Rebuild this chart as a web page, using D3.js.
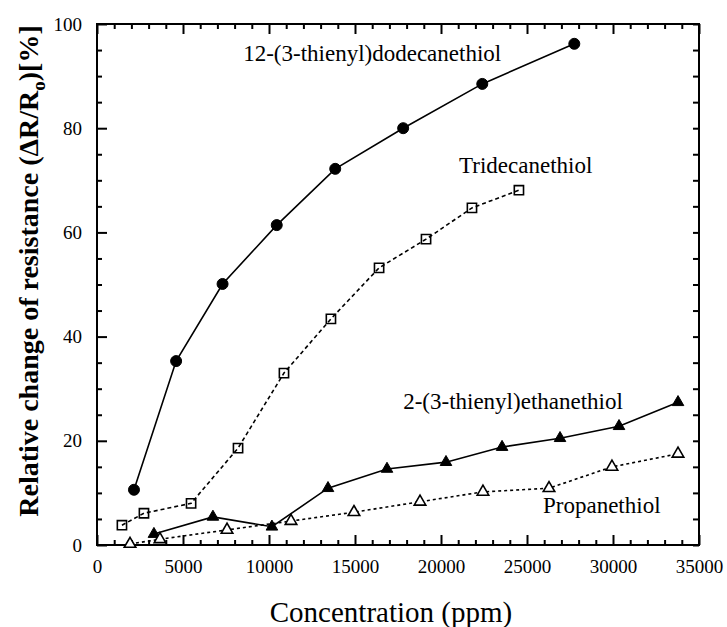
<!DOCTYPE html>
<html lang="en">
<head>
<meta charset="utf-8">
<title>Resistance change</title>
<script src="https://d3js.org/d3.v7.min.js"></script>
<style>
    body { margin: 0; background: white; }
    text { font-family: "Liberation Serif", "Times New Roman", serif; fill: black; }
</style>
</head>
<body>
<div id="chart"></div>
<script>
// data (concentration in ppm, response in %)
const dodecX = [2150, 4600, 7300, 10450, 13850, 17800, 22400, 27750];
const dodecY = [10.6, 35.3, 50.1, 61.4, 72.2, 80.0, 88.5, 96.2];

const tridecX = [1450, 2730, 5470, 8200, 10870, 13600, 16400, 19130, 21800, 24530];
const tridecY = [3.8, 6.1, 8.0, 18.6, 33.0, 43.4, 53.2, 58.7, 64.7, 68.1];

const ethanX = [3310, 6740, 10170, 13430, 16860, 20290, 23550, 26920, 30350, 33780];
const ethanY = [2.1, 5.4, 3.5, 10.9, 14.6, 15.9, 18.8, 20.5, 22.8, 27.4];

const propX = [1920, 3660, 7560, 11280, 14940, 18780, 22440, 26280, 29940, 33780];
const propY = [0.2, 1.1, 2.9, 4.6, 6.3, 8.3, 10.2, 10.9, 15.0, 17.5];

const xTicks = [0, 5000, 10000, 15000, 20000, 25000, 30000, 35000];
const yTicks = [0, 20, 40, 60, 80, 100];

const width = 727;
const height = 627;
const margin = ({left: 97, right: 28, top: 24, bottom: 82});
const w = width - margin.left - margin.right;
const h = height - margin.top - margin.bottom;

const svg = d3.select("#chart")
    .append("svg")
    .attr("width", width)
    .attr("height", height);

const g = svg.append("g")
    .attr("transform", "translate(" + margin.left + "," + margin.top + ")");

const x = d3.scaleLinear().domain([0, 35000]).range([0, w]);
const y = d3.scaleLinear().domain([0, 100]).range([h, 0]);

// minor tick positions (ticks all point inward)
const xMinor = d3.range(0, 35001, 1000);
const yMinor = d3.range(0, 101, 5);

// bottom
g.append("g")
    .attr("transform", "translate(0," + h + ")")
    .call(d3.axisBottom(x).tickValues(xMinor).tickSize(0).tickFormat(""))
    .call(a => a.select(".domain").remove())
    .selectAll(".tick line")
    .attr("y2", d => d % 5000 === 0 ? -10 : -5);

g.append("g")
    .attr("transform", "translate(0," + h + ")")
    .call(d3.axisBottom(x).tickValues(xTicks).tickSize(0).tickPadding(28).tickFormat(d3.format("d")))
    .call(a => a.select(".domain").remove())
    .selectAll("text")
    .attr("font-size", "19px")
    .attr("dy", 0);

// top
g.append("g")
    .call(d3.axisTop(x).tickValues(xMinor).tickSize(0).tickFormat(""))
    .call(a => a.select(".domain").remove())
    .selectAll(".tick line")
    .attr("y2", d => d % 5000 === 0 ? 10 : 5);

// left
g.append("g")
    .call(d3.axisLeft(y).tickValues(yMinor).tickSize(0).tickFormat(""))
    .call(a => a.select(".domain").remove())
    .selectAll(".tick line")
    .attr("x2", d => d % 20 === 0 ? 10 : 5);

g.append("g")
    .call(d3.axisLeft(y).tickValues(yTicks).tickSize(0).tickPadding(15))
    .call(a => a.select(".domain").remove())
    .selectAll("text")
    .attr("font-size", "19px");

// right
g.append("g")
    .attr("transform", "translate(" + w + ",0)")
    .call(d3.axisRight(y).tickValues(yMinor).tickSize(0).tickFormat(""))
    .call(a => a.select(".domain").remove())
    .selectAll(".tick line")
    .attr("x2", -6);

g.selectAll(".tick line").attr("stroke", "black").attr("stroke-width", 2);

// frame
g.append("rect")
    .attr("width", w)
    .attr("height", h)
    .attr("fill", "none")
    .attr("stroke", "black")
    .attr("stroke-width", 2);

// series
const series = [
    {xs: dodecX, ys: dodecY, dash: null, marker: "circle", fill: "black"},
    {xs: tridecX, ys: tridecY, dash: "4,3", marker: "square", fill: "none"},
    {xs: ethanX, ys: ethanY, dash: null, marker: "triangle", fill: "black"},
    {xs: propX, ys: propY, dash: "3,3", marker: "triangle", fill: "white"}
];

const line = d3.line()
    .x(d => x(d[0]))
    .y(d => y(d[1]));

series.forEach(s => {
    const pts = s.xs.map((v, i) => [v, s.ys[i]]);
    g.append("path")
        .datum(pts)
        .attr("d", line)
        .attr("fill", "none")
        .attr("stroke", "black")
        .attr("stroke-width", 1.6)
        .attr("stroke-dasharray", s.dash);

    const sym = s.marker === "circle" ? d3.symbolCircle
              : s.marker === "square" ? d3.symbolSquare : d3.symbolTriangle;
    const size = s.marker === "circle" ? 95 : s.marker === "square" ? 85 : 58;

    g.append("g")
        .selectAll("path")
        .data(pts)
        .enter()
        .append("path")
            .attr("transform", d => "translate(" + x(d[0]) + "," + y(d[1]) + ")")
            .attr("d", d3.symbol().type(sym).size(size))
            .attr("fill", s.fill)
            .attr("stroke", "black")
            .attr("stroke-width", s.fill === "black" ? 1 : 1.6);
});

// series labels (anchored in data coordinates)
const labels = [
    {text: "12-(3-thienyl)dodecanethiol", at: [8500, 92.9]},
    {text: "Tridecanethiol", at: [21050, 71.4]},
    {text: "2-(3-thienyl)ethanethiol", at: [17800, 26.1]},
    {text: "Propanethiol", at: [25930, 6.1]}
];

g.selectAll(".label")
    .data(labels)
    .enter()
    .append("text")
        .attr("class", "label")
        .attr("x", d => x(d.at[0]))
        .attr("y", d => y(d.at[1]))
        .attr("font-size", "23px")
        .text(d => d.text);

// axis titles
svg.append("text")
    .attr("x", 391)
    .attr("y", 622)
    .attr("text-anchor", "middle")
    .attr("font-size", "29px")
    .text("Concentration (ppm)");

const yt = svg.append("text")
    .attr("transform", "translate(38,271) rotate(-90)")
    .attr("text-anchor", "middle")
    .attr("font-size", "28px")
    .attr("font-weight", "bold");
yt.append("tspan").text("Relative change of resistance (\u0394R/R");
yt.append("tspan").attr("dy", 7).attr("font-size", "19px").text("o");
yt.append("tspan").attr("dy", -7).text(")[%]");
</script>
</body>
</html>
